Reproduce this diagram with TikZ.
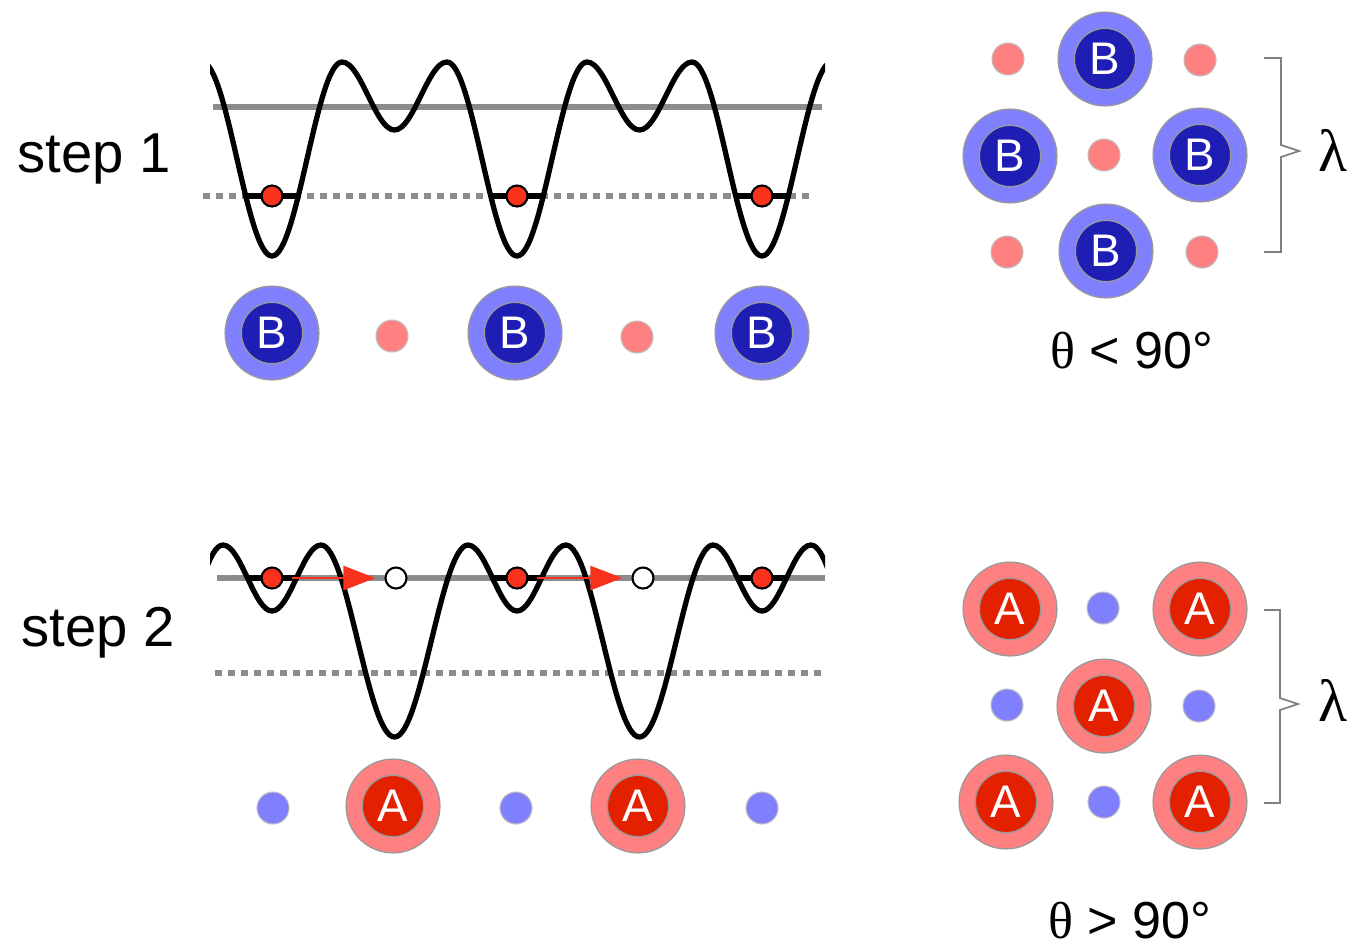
\documentclass[tikz,border=0pt]{standalone}
\usepackage{fontspec}
\setmainfont{Liberation Sans}
\newfontfamily\greekfont{Liberation Serif}
\usepackage{tikz}
\usepackage{xcolor}
\usetikzlibrary{arrows.meta}

\definecolor{bluelt}{HTML}{8080FF}
\definecolor{bluedk}{HTML}{1E1EB4}
\definecolor{salmon}{HTML}{FF8080}
\definecolor{redin}{HTML}{E32000}
\definecolor{redball}{HTML}{F8321C}
\definecolor{greyline}{HTML}{8C8C8C}

\begin{document}
\begin{tikzpicture}[
    x=0.01cm, y=-0.01cm,
    lbl/.style={font=\fontsize{16}{19}\selectfont},
    anglbl/.style={font=\fontsize{14.8}{18}\selectfont},
    greek/.style={font=\greekfont\fontsize{17}{20}\selectfont},
    atomB/.style={circle, fill=bluedk, draw=gray!80, line width=0.4pt, double=bluelt, double distance=0.147cm,
      minimum size=0.775cm, inner sep=0pt, text=white, font=\fontsize{13}{15}\selectfont},
    atomA/.style={atomB, fill=redin, double=salmon},
    dotB/.style={circle, fill=bluelt, draw=gray!50, line width=0.3pt, minimum size=0.32cm, inner sep=0pt},
    dotA/.style={dotB, fill=salmon},
    ball/.style={circle, fill=redball, draw=black, line width=0.6pt, minimum size=0.21cm, inner sep=0pt},
    hole/.style={ball, fill=white},
    pot/.style={line width=1.5pt},
    eline/.style={line width=1.5pt, greyline},
    dotline/.style={eline, dash pattern=on 2pt off 1.7pt},
    hop/.style={-{Triangle[length=0.32cm, width=0.24cm]}, line width=0.7pt, redball, shorten <=0.08cm, shorten >=0.09cm},
    bracket/.style={gray, line width=0.5pt}
  ]
    \useasboundingbox (0,0) rectangle (1352,944);

    % step 1
    \node[lbl, anchor=base] (s1) at (94,172) {step 1};
    \draw[eline] (213,107) -- (822,107);
    \draw[dotline] (203,196) -- (810,196);
    \begin{scope}
      \clip (210,0) rectangle (825,300);
      \draw[pot] (202,62) cos (237,159) sin (272,256)
        \foreach \X in {272,517} {
          cos ({\X+35},159) sin ({\X+70},62) cos ({\X+96.25},96) sin ({\X+122.5},130)
          cos ({\X+148.75},96) sin ({\X+175},62) cos ({\X+210},159) sin ({\X+245},256)
        }
        cos (797,159) sin (832,62);
    \end{scope}
    \foreach \X [count=\i] in {272,517,762} {
      \draw[pot] ({\X-26},196) -- ({\X+26},196);
      \node[ball] (ra\i) at (\X,196) {};
    }

    \node[atomB] (b1) at (272,333) {B};
    \node[dotA] (p1) at (392,336) {};
    \node[atomB] (b2) at (515,333) {B};
    \node[dotA] (p2) at (637,337) {};
    \node[atomB] (b3) at (762,333) {B};

    % step 1 lattice
    \node[dotA] (q1) at (1008,59) {};
    \node[atomB] (lb1) at (1105,59) {B};
    \node[dotA] (q2) at (1200,60) {};
    \node[atomB] (lb2) at (1010,156) {B};
    \node[dotA] (q3) at (1104,155) {};
    \node[atomB] (lb3) at (1200,155) {B};
    \node[dotA] (q4) at (1007,252) {};
    \node[atomB] (lb4) at (1106,251) {B};
    \node[dotA] (q5) at (1202,252) {};
    \draw[bracket] (1264,58) -- (1281,58) -- (1281,145) -- (1299,151) -- (1281,157) -- (1281,252) -- (1264,252);
    \node[greek] (lam1) at (1333,150) {λ};
    \node[anglbl, anchor=base] (th1) at (1132,368) {{\greekfont θ} < 90°};

    % step 2
    \node[lbl, anchor=base] (s2) at (98,646) {step 2};
    \draw[eline] (217,578) -- (825,578);
    \draw[dotline] (215,673) -- (822,673);
    \begin{scope}
      \clip (210,500) rectangle (825,760);
      \draw[pot] (186.25,641) sin (223,545) cos (247.5,578) sin (272,611)
        \foreach \S in {272,517} {
          cos ({\S+24.5},578) sin ({\S+49},545) cos ({\S+85.75},641) sin ({\S+122.5},737)
          cos ({\S+159.25},641) sin ({\S+196},545) cos ({\S+220.5},578) sin ({\S+245},611)
        }
        cos (786.5,578) sin (811,545) cos (847.75,641);
    \end{scope}
    \foreach \S [count=\i] in {272,517,762} {
      \draw[pot] ({\S-24.5},578) -- ({\S+24.5},578);
      \node[ball] (rb\i) at (\S,578) {};
    }
    \node[hole] (h1) at (396,578) {};
    \node[hole] (h2) at (643,578) {};
    \draw[hop] (rb1) -- (h1);
    \draw[hop] (rb2) -- (h2);

    \node[dotB] (u1) at (273,808) {};
    \node[atomA] (a1) at (393,806) {A};
    \node[dotB] (u2) at (516,808) {};
    \node[atomA] (a2) at (638,806) {A};
    \node[dotB] (u3) at (762,808) {};

    % step 2 lattice
    \node[atomA] (la1) at (1010,609) {A};
    \node[dotB] (v1) at (1103,608) {};
    \node[atomA] (la2) at (1200,609) {A};
    \node[dotB] (v2) at (1007,705) {};
    \node[atomA] (la3) at (1104,706) {A};
    \node[dotB] (v3) at (1199,706) {};
    \node[atomA] (la4) at (1006,802) {A};
    \node[dotB] (v4) at (1104,802) {};
    \node[atomA] (la5) at (1200,802) {A};
    \draw[bracket] (1264,610) -- (1280,610) -- (1280,698) -- (1298,704) -- (1280,710) -- (1280,803) -- (1264,803);
    \node[greek] (lam2) at (1333,700) {λ};
    \node[anglbl, anchor=base] (th2) at (1130,938) {{\greekfont θ} > 90°};
  \end{tikzpicture}
\end{document}
